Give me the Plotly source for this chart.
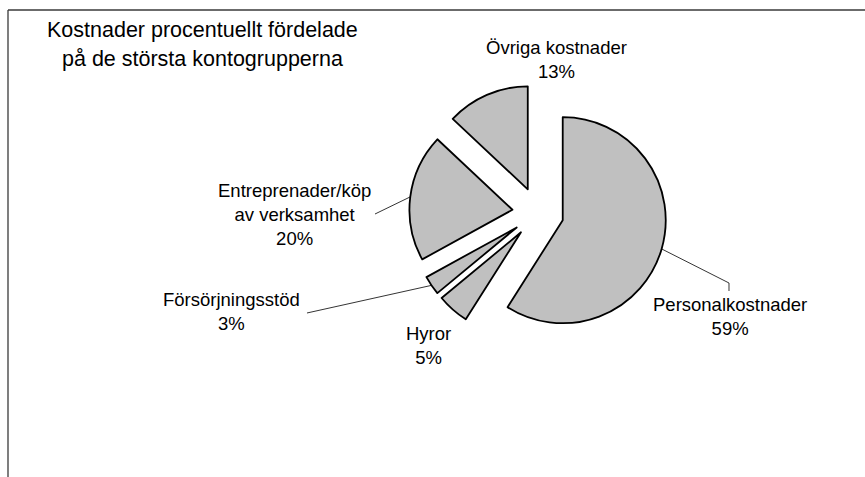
import math
import plotly.graph_objects as go

# ---- data ----
labels = ["Personalkostnader", "Hyror", "Försörjningsstöd", "Entreprenader/köp av verksamhet", "Övriga kostnader"]
label_text = ["Personalkostnader<br>59%", "Hyror<br>5%", "Försörjningsstöd<br>3%",
              "Entreprenader/köp<br>av verksamhet<br>20%", "Övriga kostnader<br>13%"]
values = [59, 5, 3, 20, 13]

# ---- layout constants (pixels) ----
W, H = 865, 477
PULL = 0.25
PIE_CX, PIE_CY, PIE_HALF = 538, 213, 128.75  # pie domain centre / half size (px)
FONT = "Liberation Sans, Arial, sans-serif"

# label block centres (px, from top-left)
label_pos = [(730, 316.5), (428.5, 345), (232, 311.3), (294, 214.4), (556, 59.3)]
# leader line anchor points near text (px); None = no leader line
leader_pts = [[(729, 291), (729, 283)], None, [(307, 313)], [(375, 214)], None]

def px(x):
    return x / W

def py(y):
    return 1 - y / H

fig = go.Figure(go.Pie(
    labels=labels, values=values, sort=False, direction="clockwise", rotation=0,
    pull=[PULL] * len(values), textinfo="none", hoverinfo="label+percent",
    marker=dict(colors=["#c0c0c0"] * len(values), line=dict(color="#000000", width=1.8)),
    domain=dict(x=[px(PIE_CX - PIE_HALF), px(PIE_CX + PIE_HALF)],
                y=[py(PIE_CY + PIE_HALF), py(PIE_CY - PIE_HALF)]),
    showlegend=False,
))

# geometry to locate slice edge points for leader lines
r = PIE_HALF / (1 + PULL)
total = sum(values)
shapes = []
cum = 0
for i, v in enumerate(values):
    mid = (cum + v / 2) / total * 2 * math.pi
    cum += v
    dx, dy = math.sin(mid), -math.cos(mid)
    ex = PIE_CX + dx * r * (1 + PULL)
    ey = PIE_CY + dy * r * (1 + PULL)
    if leader_pts[i] is None:
        continue
    pts = leader_pts[i] + [(ex, ey)]
    path = "M " + " L ".join(f"{px(a):.5f},{py(b):.5f}" for a, b in pts)
    shapes.append(dict(type="path", path=path, xref="paper", yref="paper",
                       line=dict(color="#000000", width=0.8)))

# chart frame (left and top edges)
shapes.append(dict(type="line", xref="paper", yref="paper", x0=px(8), y0=0, x1=px(8), y1=py(10),
                   line=dict(color="#3a3a3a", width=1.3)))
shapes.append(dict(type="line", xref="paper", yref="paper", x0=px(8), y0=py(10), x1=1, y1=py(10),
                   line=dict(color="#3a3a3a", width=1.3)))

annotations = []
for (lx, ly), t in zip(label_pos, label_text):
    annotations.append(dict(x=px(lx), y=py(ly), xref="paper", yref="paper", text=t,
                            showarrow=False, xanchor="center", yanchor="middle",
                            font=dict(family=FONT, size=18.5, color="#000000")))

title_lines = ["Kostnader procentuellt fördelade", "på de största kontogrupperna"]
title_y = [30, 58.7]
for t, ty in zip(title_lines, title_y):
    annotations.append(dict(x=px(202), y=py(ty), xref="paper", yref="paper", text=t,
                            showarrow=False, xanchor="center", yanchor="middle",
                            font=dict(family=FONT, size=21.5, color="#000000")))

fig.update_layout(
    width=W, height=H, margin=dict(l=0, r=0, t=0, b=0),
    paper_bgcolor="#ffffff", plot_bgcolor="#ffffff",
    shapes=shapes, annotations=annotations,
)

fig.write_html("out.html", config={"displayModeBar": False},
               post_script="document.body.style.margin='0';")
